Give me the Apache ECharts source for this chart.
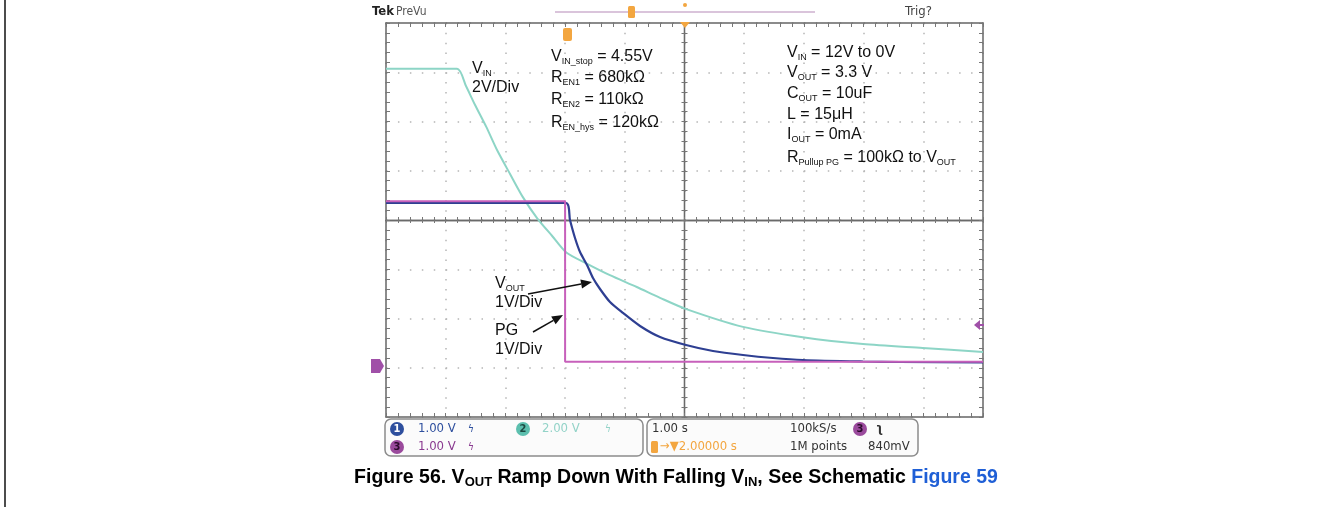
<!DOCTYPE html>
<html><head><meta charset="utf-8">
<script src="https://cdn.jsdelivr.net/npm/echarts/dist/echarts.min.js"></script>
<style>html,body{margin:0;padding:0;background:#fff}#c{width:1340px;height:508px}</style>
</head><body><div id="c"></div>
<script>
// ---- data (time in s, 1 s/div; amplitude in screen divisions, centre = 0) ----
const vinTime  = [0, 1.19, 1.34, 1.49, 1.68, 1.86, 2.08, 2.29, 2.53, 2.78, 3.02, 3.37, 3.75, 4.20, 4.59, 5.03, 5.98, 6.98, 7.99, 8.99, 10.0];
const vinDiv   = [3.07, 3.07, 2.72, 2.34, 1.89, 1.42, 0.93, 0.47, 0.04, -0.32, -0.66, -0.89, -1.12, -1.36, -1.58, -1.81, -2.17, -2.38, -2.52, -2.60, -2.68];
const voutTime = [0, 3.015, 3.082, 3.166, 3.25, 3.367, 3.467, 3.585, 3.752, 3.97, 4.255, 4.59, 5.025, 5.477, 5.98, 6.482, 6.985, 7.99, 8.61, 10.0];
const voutDiv  = [0.345, 0.345, 0, -0.365, -0.65, -0.914, -1.178, -1.401, -1.665, -1.888, -2.152, -2.376, -2.538, -2.66, -2.741, -2.802, -2.843, -2.873, -2.883, -2.893];
const pgTime   = [0, 3.0, 3.0, 10.0];
const pgDiv    = [0.38, 0.38, -2.88, -2.88];
const xRange = [0, 10];   // 10 horizontal divisions
const yRange = [-4, 4];   // 8 vertical divisions

const F = "'Liberation Sans', Arial, sans-serif";
const FN = "'Liberation Sans Narrow','DejaVu Sans Condensed', 'Liberation Sans', sans-serif";
const GL = 386, GT = 23, GW = 597, GH = 394;

function pairs(t, v) { return t.map((x, i) => [x, v[i]]); }

function axisBase(min, max) {
  return { type: 'value', min: min, max: max, interval: 1, axisLabel: { show: false }, splitLine: { show: false } };
}
function borderAxis(min, max, pos) {
  return Object.assign(axisBase(min, max), {
    position: pos,
    axisLine: { show: true, onZero: false, lineStyle: { color: '#666', width: 1.5 } },
    axisTick: { show: true, inside: true, length: 4, lineStyle: { color: '#777', width: 1 } },
    minorTick: { show: true, splitNumber: 5, length: 4, lineStyle: { color: '#777', width: 1 } }
  });
}
function centerAxis(min, max, pos, offset, inside) {
  return Object.assign(axisBase(min, max), {
    position: pos, offset: offset,
    axisLine: { show: true, onZero: false, lineStyle: { color: '#6a6a6a', width: 1.3 } },
    axisTick: { show: true, inside: inside, length: 3, lineStyle: { color: '#777', width: 1 } },
    minorTick: { show: true, splitNumber: 5, length: 3, lineStyle: { color: '#777', width: 1 } }
  });
}

const xMain = borderAxis(xRange[0], xRange[1], 'bottom');
xMain.splitLine = { show: true, lineStyle: { color: '#b5b5b5', width: 1.5, type: [1.5, 8.35] } };
const yMain = borderAxis(yRange[0], yRange[1], 'left');
yMain.splitLine = { show: true, lineStyle: { color: '#b5b5b5', width: 1.5, type: [1.5, 10.44] } };

const R = {
  n: { fontSize: 16, fontFamily: F, fill: '#111', lineHeight: 20 },
  s: { fontSize: 9, fontFamily: F, fill: '#111', lineHeight: 9, padding: [10, 0, 0, 0] }
};
function rt(x, y, text) {
  return { type: 'text', x: x, y: y, z: 50, style: { text: text, rich: R, verticalAlign: 'middle', textAlign: 'left' } };
}
function txt(x, y, text, fill, size, font, weight, align) {
  return { type: 'text', x: x, y: y, z: 50, style: { text: text, fill: fill, fontSize: size, fontFamily: font || FN, fontWeight: weight || 'normal', verticalAlign: 'middle', textAlign: align || 'left' } };
}
function arrow(x1, y1, x2, y2) {
  const a = Math.atan2(y2 - y1, x2 - x1), L = 11, W = 4.5;
  const bx = x2 - L * Math.cos(a), by = y2 - L * Math.sin(a);
  const px = -Math.sin(a) * W, py = Math.cos(a) * W;
  return [
    { type: 'line', z: 50, shape: { x1: x1, y1: y1, x2: bx, y2: by }, style: { stroke: '#111', lineWidth: 1.5 } },
    { type: 'polygon', z: 50, shape: { points: [[x2, y2], [bx + px, by + py], [bx - px, by - py]] }, style: { fill: '#111' } }
  ];
}
function badge(cx, cy, fill, label, lc) {
  return [
    { type: 'circle', z: 50, shape: { cx: cx, cy: cy, r: 7 }, style: { fill: fill } },
    txt(cx, cy + 0.5, label, lc, 11, FN, 'bold', 'center')
  ];
}

const graphics = [
  // page border line at left
  { type: 'line', shape: { x1: 5, y1: 0, x2: 5, y2: 507 }, style: { stroke: '#111', lineWidth: 1.5 } },
  // header
  txt(372, 12, 'Tek', '#222', 13, FN, 'bold'),
  txt(396, 12, 'PreVu', '#555', 12, FN),
  txt(905, 12, 'Trig?', '#444', 13, FN),
  { type: 'line', shape: { x1: 555, y1: 12, x2: 815, y2: 12 }, style: { stroke: '#b58ab8', lineWidth: 1.2 } },
  { type: 'rect', shape: { x: 628, y: 6, width: 7, height: 12, r: 1.5 }, style: { fill: '#f3a640' } },
  { type: 'circle', shape: { cx: 685, cy: 5, r: 2 }, style: { fill: '#f3a640' } },
  { type: 'polygon', z: 60, shape: { points: [[680, 22], [690, 22], [685, 28]] }, style: { fill: '#f3a640' } },
  { type: 'rect', z: 60, shape: { x: 563, y: 28, width: 9, height: 13, r: 2 }, style: { fill: '#f3a640' } },
  // ground marker ch3 and trigger level
  { type: 'polygon', z: 60, shape: { points: [[371, 359], [380, 359], [384, 366], [380, 373], [371, 373]] }, style: { fill: '#a050a8' } },
  txt(376, 366.5, '3', '#fff', 10, FN, 'bold', 'center'),
  { type: 'polygon', z: 60, shape: { points: [[974, 325], [980, 320], [980, 330]] }, style: { fill: '#a050a8' } },
  { type: 'line', z: 60, shape: { x1: 978, y1: 325, x2: 984, y2: 325 }, style: { stroke: '#a050a8', lineWidth: 2 } },
  // annotations
  rt(472, 69, '{n|V}{s|IN}'),
  rt(472, 88, '{n|2V/Div}'),
  rt(551, 57, '{n|V}{s|IN_stop}{n| = 4.55V}'),
  rt(551, 78, '{n|R}{s|EN1}{n| = 680kΩ}'),
  rt(551, 100, '{n|R}{s|EN2}{n| = 110kΩ}'),
  rt(551, 123, '{n|R}{s|EN_hys}{n| = 120kΩ}'),
  rt(787, 53, '{n|V}{s|IN}{n| = 12V to 0V}'),
  rt(787, 73, '{n|V}{s|OUT}{n| = 3.3 V}'),
  rt(787, 94, '{n|C}{s|OUT}{n| = 10uF}'),
  rt(787, 115, '{n|L = 15μH}'),
  rt(787, 135, '{n|I}{s|OUT}{n| = 0mA}'),
  rt(787, 158, '{n|R}{s|Pullup PG}{n| = 100kΩ to V}{s|OUT}'),
  rt(495, 284, '{n|V}{s|OUT}'),
  rt(495, 303, '{n|1V/Div}'),
  rt(495, 331, '{n|PG}'),
  rt(495, 350, '{n|1V/Div}'),
  ...arrow(528, 294, 592, 282),
  ...arrow(533, 332, 563, 315),
  // status bar
  { type: 'rect', shape: { x: 385, y: 419, width: 258, height: 37, r: 6 }, style: { fill: '#fbfbfb', stroke: '#8c8c8c', lineWidth: 1.5 } },
  { type: 'rect', shape: { x: 647, y: 419, width: 271, height: 37, r: 6 }, style: { fill: '#fbfbfb', stroke: '#8c8c8c', lineWidth: 1.5 } },
  ...badge(397, 429, '#2e4f9e', '1', '#fff'),
  txt(418, 429, '1.00 V', '#2e4f9e', 13),
  txt(468, 429, 'ϟ', '#2e4f9e', 10),
  ...badge(523, 429, '#5cbfae', '2', '#1d4a42'),
  txt(542, 429, '2.00 V', '#93d3c8', 13),
  txt(605, 429, 'ϟ', '#93d3c8', 10),
  ...badge(397, 447, '#9a4a9c', '3', '#2a0a2a'),
  txt(418, 447, '1.00 V', '#8a3a90', 13),
  txt(468, 447, 'ϟ', '#8a3a90', 10),
  txt(652, 429, '1.00 s', '#333', 13),
  txt(790, 429, '100kS/s', '#333', 13),
  ...badge(860, 429, '#9a4a9c', '3', '#2a0a2a'),
  txt(876, 429, 'ʅ', '#333', 13, FN, 'bold'),
  { type: 'rect', z: 50, shape: { x: 651, y: 441, width: 7, height: 12, r: 1.5 }, style: { fill: '#f3a640' } },
  txt(660, 447, '→▼2.00000 s', '#f3a640', 13),
  txt(790, 447, '1M points', '#333', 13),
  txt(868, 447, '840mV', '#333', 13),
  // caption
  { type: 'text', x: 676, y: 478, style: {
      text: '{c|Figure 56. V}{cs|OUT}{c| Ramp Down With Falling V}{cs|IN}{c|, See Schematic }{cl|Figure 59}',
      textAlign: 'center', verticalAlign: 'middle',
      rich: {
        c: { fontSize: 19.5, fontWeight: 'bold', fontFamily: F, fill: '#000', lineHeight: 24 },
        cs: { fontSize: 13, fontWeight: 'bold', fontFamily: F, fill: '#000', lineHeight: 13, padding: [9, 0, 0, 0] },
        cl: { fontSize: 19.5, fontWeight: 'bold', fontFamily: F, fill: '#1f5fd6', lineHeight: 24 }
      } } }
];

const chart = echarts.init(document.getElementById('c'), null, { renderer: 'canvas' });
chart.setOption({
  backgroundColor: '#ffffff',
  animation: false,
  grid: { left: GL, top: GT, width: GW, height: GH, show: false },
  xAxis: [
    xMain,
    borderAxis(xRange[0], xRange[1], 'top'),
    centerAxis(xRange[0], xRange[1], 'bottom', -GH / 2, false),
    centerAxis(xRange[0], xRange[1], 'bottom', -GH / 2, true)
  ],
  yAxis: [
    yMain,
    borderAxis(yRange[0], yRange[1], 'right'),
    centerAxis(yRange[0], yRange[1], 'left', -GW / 2, false),
    centerAxis(yRange[0], yRange[1], 'left', -GW / 2, true)
  ],
  series: [
    { name: 'VIN', type: 'line', data: pairs(vinTime, vinDiv), showSymbol: false, smooth: 0.25, z: 3,
      lineStyle: { color: '#8dd5c6', width: 2 } },
    { name: 'VOUT', type: 'line', data: pairs(voutTime, voutDiv), showSymbol: false, smooth: 0.25, z: 4,
      lineStyle: { color: '#2e3f92', width: 2.2 } },
    { name: 'PG', type: 'line', data: pairs(pgTime, pgDiv), showSymbol: false, z: 5,
      lineStyle: { color: '#c760bb', width: 2 } }
  ],
  graphic: graphics
});
</script></body></html>
